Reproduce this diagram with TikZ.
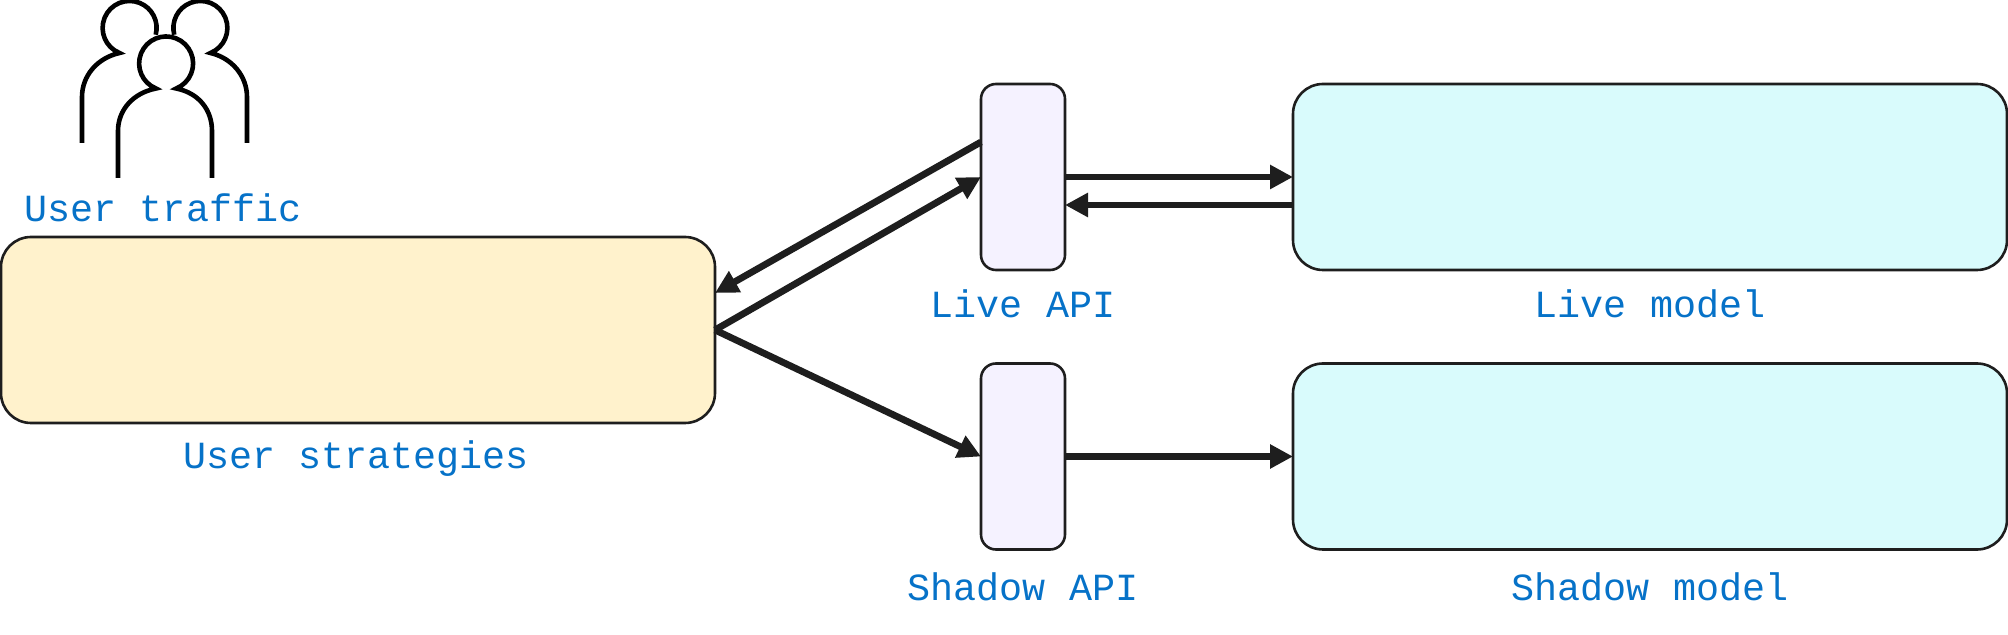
\documentclass[tikz,border=0pt]{standalone}
\usepackage{fontspec}
\setmonofont{Liberation Mono}
\usetikzlibrary{arrows.meta}
\definecolor{labelblue}{HTML}{0672C8}
\definecolor{linedark}{HTML}{1E1E1E}
\tikzset{
	boxbase/.style={draw=linedark, line width=1.3pt, inner sep=0pt, outer sep=0pt},
	boxuser/.style={boxbase, fill=yellow!20!white, fill=boxyellow, rounded corners=15pt, minimum width=357pt, minimum height=93pt},
	boxapi/.style={boxbase, fill=boxlav, rounded corners=7.5pt, minimum width=42pt, minimum height=93pt},
	boxmodel/.style={boxbase, fill=boxcyan, rounded corners=15pt, minimum width=357pt, minimum height=93pt},
	flowline/.style={draw=linedark, line width=3.4pt, -{Triangle[length=11.5pt, width=11.5pt]}, shorten >=0pt},
	toplabel/.style={anchor=base, text=labelblue, inner sep=0pt, font=\ttfamily\fontsize{19.2}{23}\selectfont},
	personline/.style={draw=black, line width=2.3pt, miter limit=10}
}
\definecolor{boxyellow}{HTML}{FFF2CC}
\definecolor{boxlav}{HTML}{F5F2FF}
\definecolor{boxcyan}{HTML}{D9FBFC}
\begin{document}
\begin{tikzpicture}[x=0.5pt, y=-0.5pt]
	\useasboundingbox (0,0) rectangle (2008,635);
	% people
	\draw[personline] (82,143)--(82,97) .. controls (82,76) and (97,58) .. (119.5,53)
		arc[start angle=112, end angle=374.5, radius=27];
	\draw[personline] (247,143)--(247,97) .. controls (247,76) and (232,58) .. (210.5,53)
		arc[start angle=68, end angle=-194.5, radius=27];
	\draw[personline] (118,178)--(118,131) .. controls (118,110) and (133,93) .. (156,88.5)
		arc[start angle=112, end angle=428, radius=27]
		.. controls (199,93) and (212,110) .. (212,131)--(212,178);
	% boxes
	\node[boxuser] (user) at (358,330) {};
	\node[boxapi] (liveapi) at (1023,177) {};
	\node[boxapi] (shadowapi) at (1023,456.5) {};
	\node[boxmodel] (livemodel) at (1650,177) {};
	\node[boxmodel] (shadowmodel) at (1650,456.5) {};
	% labels
	\node[toplabel] (trafficlabel) at (163,222) {User traffic};
	\node[toplabel] (userlabel) at (356,469) {User strategies};
	\node[toplabel] (livelabel) at (1023,318) {Live API};
	\node[toplabel] (shadowlabel) at (1023,601) {Shadow API};
	\node[toplabel] (livemodellabel) at (1650,318) {Live model};
	\node[toplabel] (shadowmodellabel) at (1650,601) {Shadow model};
	% arrows
	\draw[flowline] ([yshift=17.5pt]liveapi.west)--([yshift=18.5pt]user.east);
	\draw[flowline] (user.east)--(liveapi.west);
	\draw[flowline] (user.east)--(shadowapi.west);
	\draw[flowline] (liveapi.east)--(livemodel.west);
	\draw[flowline] ([yshift=-14pt]livemodel.west)--([yshift=-14pt]liveapi.east);
	\draw[flowline] (shadowapi.east)--(shadowmodel.west);
\end{tikzpicture}
\end{document}
